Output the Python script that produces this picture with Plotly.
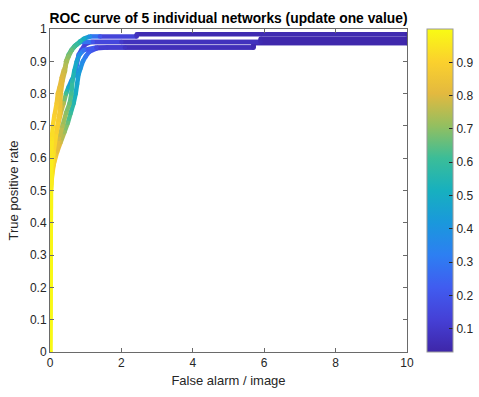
import plotly.graph_objects as go
from plotly.colors import sample_colorscale

# Parula-like colour map used for the score threshold
PARULA = [
    [0.00, "#3e26a8"],
    [0.10, "#4540d6"],
    [0.20, "#405cf0"],
    [0.30, "#2d7ff2"],
    [0.40, "#1a98dc"],
    [0.50, "#17b0bf"],
    [0.60, "#3bbd98"],
    [0.70, "#93bf60"],
    [0.80, "#e3b93f"],
    [0.90, "#fbd12d"],
    [1.00, "#f9fb14"],
]
THR_MIN, THR_MAX = 0.03, 1.0

# ROC operating points of each network: false alarms per image, TPR, threshold
net1_fa = [0, 0.00, 0.01, 0.03, 0.05, 0.08, 0.12, 0.19, 0.22, 0.27, 0.33, 0.38, 0.42, 0.47, 0.52,
           0.61, 0.68, 0.75, 0.85, 0.95, 1.12, 1.40, 2.43, 2.43, 10]
net1_tp = [0, 0.30, 0.50, 0.60, 0.66, 0.70, 0.73, 0.77, 0.80, 0.82, 0.85, 0.87, 0.88, 0.90, 0.915,
           0.935, 0.945, 0.952, 0.962, 0.970, 0.977, 0.977, 0.977, 0.984, 0.984]
net1_th = [1.0, 0.995, 0.98, 0.96, 0.94, 0.92, 0.90, 0.87, 0.85, 0.83, 0.80, 0.78, 0.76, 0.73, 0.70,
           0.66, 0.63, 0.60, 0.55, 0.50, 0.38, 0.20, 0.08, 0.07, 0.03]

net2_fa = [0, 0.01, 0.04, 0.10, 0.18, 0.24, 0.28, 0.30, 0.35, 0.42, 0.45, 0.52, 0.60, 0.70,
           0.85, 1.20, 2.00, 5.90, 5.90, 10]
net2_tp = [0, 0.45, 0.55, 0.62, 0.68, 0.72, 0.75, 0.80, 0.84, 0.87, 0.90, 0.92, 0.935, 0.948,
           0.960, 0.960, 0.960, 0.960, 0.970, 0.970]
net2_th = [1.0, 0.98, 0.96, 0.93, 0.90, 0.88, 0.86, 0.83, 0.80, 0.76, 0.72, 0.65, 0.58, 0.50,
           0.38, 0.20, 0.10, 0.05, 0.045, 0.03]

net3_fa = [0, 0.02, 0.06, 0.15, 0.25, 0.35, 0.45, 0.55, 0.60, 0.63, 0.68, 0.75, 0.82, 0.95,
           1.30, 2.10, 5.70, 5.70, 10]
net3_tp = [0, 0.50, 0.56, 0.61, 0.66, 0.70, 0.74, 0.77, 0.80, 0.84, 0.87, 0.90, 0.92, 0.935,
           0.943, 0.943, 0.943, 0.957, 0.957]
net3_th = [1.0, 0.97, 0.92, 0.85, 0.79, 0.74, 0.70, 0.66, 0.62, 0.57, 0.52, 0.46, 0.38, 0.28,
           0.15, 0.08, 0.05, 0.045, 0.03]

net4_fa = [0, 0.03, 0.10, 0.20, 0.30, 0.40, 0.50, 0.58, 0.66, 0.72, 0.76, 0.80, 0.86, 0.92,
           1.00, 1.10, 1.30, 1.60, 5.70, 5.70, 10]
net4_tp = [0, 0.52, 0.58, 0.62, 0.65, 0.68, 0.71, 0.74, 0.77, 0.80, 0.83, 0.86, 0.88, 0.90,
           0.915, 0.93, 0.94, 0.943, 0.943, 0.957, 0.957]
net4_th = [1.0, 0.96, 0.90, 0.84, 0.78, 0.72, 0.66, 0.60, 0.55, 0.50, 0.47, 0.44, 0.40, 0.36,
           0.30, 0.24, 0.16, 0.10, 0.05, 0.045, 0.03]

net5_fa = [0, 0.02, 0.08, 0.15, 0.22, 0.30, 0.38, 0.45, 0.52, 0.60, 0.70, 0.75, 0.80, 0.88,
           0.98, 1.15, 10]
net5_tp = [0, 0.50, 0.60, 0.66, 0.70, 0.74, 0.77, 0.80, 0.82, 0.84, 0.86, 0.89, 0.92, 0.935,
           0.952, 0.960, 0.960]
net5_th = [1.0, 0.96, 0.92, 0.88, 0.84, 0.80, 0.74, 0.62, 0.48, 0.38, 0.30, 0.25, 0.20, 0.17,
           0.13, 0.10, 0.03]

networks = [
    (net5_fa, net5_tp, net5_th),
    (net4_fa, net4_tp, net4_th),
    (net3_fa, net3_tp, net3_th),
    (net2_fa, net2_tp, net2_th),
    (net1_fa, net1_tp, net1_th),
]

x_ticks = [0, 2, 4, 6, 8, 10]
y_ticks = [0, 0.1, 0.2, 0.3, 0.4, 0.5, 0.6, 0.7, 0.8, 0.9, 1]
cbar_ticks = [0.1, 0.2, 0.3, 0.4, 0.5, 0.6, 0.7, 0.8, 0.9]

LINE_W = 4.5
FONT = "Liberation Sans, Arial, Helvetica, sans-serif"
AX_COLOR = "#6a6a6a"
TXT_COLOR = "#262626"


def thr_color(t):
    f = (t - THR_MIN) / (THR_MAX - THR_MIN)
    f = min(max(f, 0.0), 1.0)
    return sample_colorscale(PARULA, [f])[0]


fig = go.Figure()
for k, (fa, tp, th) in enumerate(networks):
    # each segment coloured by the mean threshold of its two end points
    for i in range(len(fa) - 1):
        fig.add_trace(go.Scatter(
            x=[fa[i], fa[i + 1]], y=[tp[i], tp[i + 1]],
            mode="lines",
            line=dict(color=thr_color(0.5 * (th[i] + th[i + 1])), width=LINE_W),
            hoverinfo="skip", showlegend=False,
        ))
    # round joints at the operating points, carrying the colour scale
    fig.add_trace(go.Scatter(
        x=fa, y=tp, mode="markers",
        marker=dict(
            size=LINE_W, color=th, colorscale=PARULA,
            cmin=THR_MIN, cmax=THR_MAX, line=dict(width=0),
            showscale=(k == len(networks) - 1),
            colorbar=dict(
                thickness=26, len=1, lenmode="fraction",
                y=0.5, yanchor="middle", x=1.056, xanchor="left",
                xpad=0, ypad=0,
                outlinewidth=1, outlinecolor="#9a9a9a",
                ticks="inside", ticklen=4, tickcolor=TXT_COLOR,
                tickvals=cbar_ticks, ticktext=[str(v) for v in cbar_ticks],
                tickfont=dict(family=FONT, size=12, color=TXT_COLOR),
            ),
        ),
        hoverinfo="skip", showlegend=False,
    ))

axis_common = dict(
    showgrid=False, zeroline=False,
    showline=True, linecolor=AX_COLOR, linewidth=1, mirror="ticks",
    ticks="inside", ticklen=4, tickcolor=AX_COLOR,
    tickfont=dict(family=FONT, size=12, color=TXT_COLOR),
)

fig.update_layout(
    width=479, height=397,
    margin=dict(l=50, r=72, t=29, b=45, autoexpand=False),
    paper_bgcolor="white", plot_bgcolor="white",
    title=dict(
        text="<b>ROC curve of 5 individual networks (update one value)</b>",
        x=(50 + 407) / 2 / 479, xanchor="center", y=1 - 18 / 397, yanchor="middle",
        font=dict(family=FONT, size=13.8, color="black"),
    ),
    xaxis=dict(
        range=[0, 10], tickvals=x_ticks, ticktext=[str(v) for v in x_ticks],
        title=dict(text="False alarm / image", standoff=6,
                   font=dict(family=FONT, size=13, color=TXT_COLOR)),
        **axis_common,
    ),
    yaxis=dict(
        range=[0, 1], tickvals=y_ticks,
        ticktext=["0" if v == 0 else ("1" if v == 1 else f"{v:g}") for v in y_ticks],
        title=dict(text="True positive rate", standoff=8,
                   font=dict(family=FONT, size=13, color=TXT_COLOR)),
        **axis_common,
    ),
)

fig.write_html("out.html")
